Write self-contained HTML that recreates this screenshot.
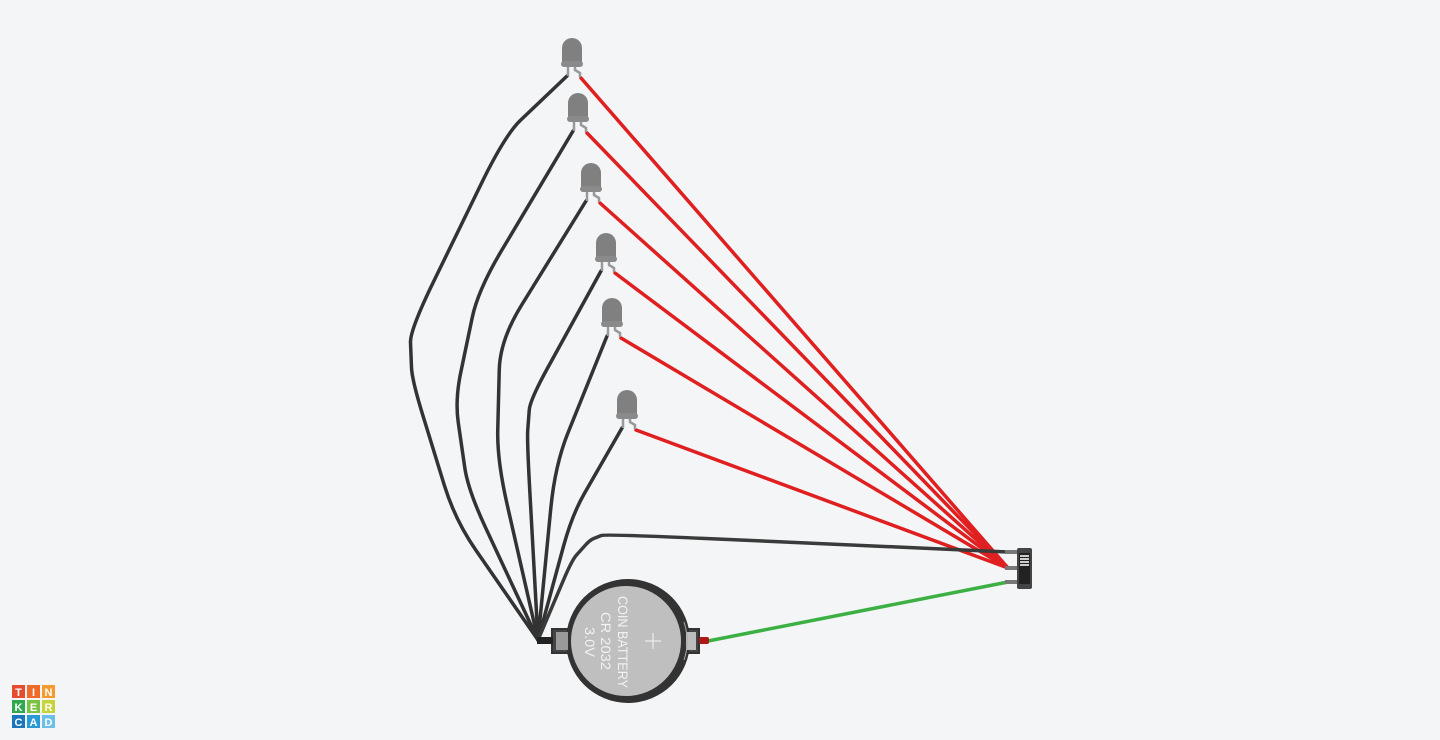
<!DOCTYPE html>
<html><head><meta charset="utf-8"><style>
html,body{margin:0;padding:0;background:#f3f5f7;}
svg{display:block;}
</style></head><body>
<svg width="1440" height="740" viewBox="0 0 1440 740">
<rect width="1440" height="740" fill="#f3f5f7"/>
<g id="wires" fill="none" stroke-linecap="round" stroke-linejoin="round" stroke-width="3.5"></g>
<g id="leds"></g>
<g>
  <rect x="552" y="629" width="18" height="24" fill="#444" stroke="#333" stroke-width="2"/>
  <rect x="684" y="629" width="15" height="24" fill="#444" stroke="#333" stroke-width="2"/>
  <circle cx="628" cy="641" r="62" fill="#333"/>
  <rect x="556" y="632" width="12" height="18" fill="#9a9a9a"/>
  <rect x="686" y="632" width="10" height="18" fill="#bdbdbd"/>
  <circle cx="626" cy="641" r="55" fill="#bfbfbf"/>
  <path d="M684 622 A60 60 0 0 1 684 660" stroke="#aaa" stroke-width="1" fill="none"/>
  <line x1="645" y1="641" x2="661" y2="641" stroke="#eee" stroke-width="1.2"/>
  <line x1="653" y1="633" x2="653" y2="649" stroke="#eee" stroke-width="1.2"/>
  <g font-family="Liberation Sans, sans-serif" font-size="14" fill="#f2f2f2">
    <text transform="translate(618,596) rotate(90)" textLength="92" lengthAdjust="spacingAndGlyphs">COIN BATTERY</text>
    <text transform="translate(601,612) rotate(90)" textLength="58" lengthAdjust="spacingAndGlyphs">CR 2032</text>
    <text transform="translate(585,627) rotate(90)" textLength="30" lengthAdjust="spacingAndGlyphs">3.0V</text>
  </g>
  <rect x="537" y="637" width="16" height="7" fill="#222"/>
  <rect x="699" y="637" width="10" height="7" rx="2" fill="#b01818"/>
</g>
<g>
  <rect x="1005" y="550" width="14" height="4" fill="#777"/>
  <rect x="1005" y="566" width="14" height="4" fill="#777"/>
  <rect x="1005" y="580" width="14" height="4" fill="#777"/>
  <rect x="1017" y="548" width="15" height="41" rx="2" fill="#444"/>
  <rect x="1019" y="553" width="11" height="31" fill="#222"/>
  <rect x="1020" y="555" width="9" height="2" fill="#ccc"/>
  <rect x="1020" y="558" width="9" height="2" fill="#ccc"/>
  <rect x="1020" y="561" width="9" height="2" fill="#ccc"/>
  <rect x="1020" y="564" width="9" height="2" fill="#ccc"/>
</g>
<g font-family="Liberation Sans, sans-serif" font-size="11" font-weight="bold" fill="#fff" text-anchor="middle">
  <rect x="12" y="685" width="13" height="13" fill="#e64b2e"/><text x="18.5" y="696">T</text>
  <rect x="27" y="685" width="13" height="13" fill="#f06a2a"/><text x="33.5" y="696">I</text>
  <rect x="42" y="685" width="13" height="13" fill="#f59a2f"/><text x="48.5" y="696">N</text>
  <rect x="12" y="700" width="13" height="13" fill="#2fa84f"/><text x="18.5" y="711">K</text>
  <rect x="27" y="700" width="13" height="13" fill="#7cc242"/><text x="33.5" y="711">E</text>
  <rect x="42" y="700" width="13" height="13" fill="#c6d43a"/><text x="48.5" y="711">R</text>
  <rect x="12" y="715" width="13" height="13" fill="#1b75bc"/><text x="18.5" y="726">C</text>
  <rect x="27" y="715" width="13" height="13" fill="#2a9ad6"/><text x="33.5" y="726">A</text>
  <rect x="42" y="715" width="13" height="13" fill="#6cc0e8"/><text x="48.5" y="726">D</text>
</g>
</svg>
<script>
const ledX=[572,578,591,606,612,627];
const ledTop=[38,93,163,233,298,390];
const blackPaths=[
 [[505,135],[410,330],[412,380],[455,520]],
 [[478,290],[455,400],[468,490]],
 [[500,340],[497,460]],
 [[530,400],[527,440]],
 [[555,465]],
 [[572,515]]
];
const hub=[538,640], sw=[1008,568];
const NS='http://www.w3.org/2000/svg';
const wires=document.getElementById('wires'), leds=document.getElementById('leds');
function smooth(pts){
  if(pts.length<3) return 'M'+pts.map(q=>q.join(',')).join(' L');
  let d='M'+pts[0].join(',');
  for(let i=1;i<pts.length-1;i++){
    const a=pts[i-1],b=pts[i],c=pts[i+1];
    const p1=[b[0]+(a[0]-b[0])*0.25,b[1]+(a[1]-b[1])*0.25];
    const p2=[b[0]+(c[0]-b[0])*0.25,b[1]+(c[1]-b[1])*0.25];
    d+=' L'+p1.join(',')+' Q'+b.join(',')+' '+p2.join(',');
  }
  return d+' L'+pts[pts.length-1].join(',');
}
function pl(pts,color,name){
  const p=document.createElementNS(NS,'path');
  p.setAttribute('d',smooth(pts));
  p.setAttribute('stroke',color);
  
  
  wires.appendChild(p);
}
ledX.forEach((x,i)=>{
  const t=ledTop[i];
  pl([[x-5,t+38]].concat(blackPaths[i]).concat([hub]),'#333','ground-wire');
  pl([[x+9,t+40],sw],'#e02020','led-wire');
  const g=document.createElementNS(NS,'g');
  
  
  g.innerHTML=`<path d="M${x-4} ${t+28} V${t+38}" stroke="#999" stroke-width="2.5" fill="none"/>
  <path d="M${x+3} ${t+28} V${t+32} L${x+8} ${t+35} V${t+39}" stroke="#999" stroke-width="2.5" fill="none"/>
  <path d="M${x-10} ${t+26} V${t+10} A10 10 0 0 1 ${x+10} ${t+10} V${t+26} Z" fill="#808080"/>
  <rect x="${x-11}" y="${t+23}" width="22" height="6" rx="3" fill="#8a8a8a"/>`;
  leds.appendChild(g);
});
pl([[1008,552],[605,534],[590,540],[572,560],hub],'#3a3a3a','switch-ground-wire');
pl([[1008,582],[708,641]],'#3cb043','battery-positive-wire');
</script>
</body></html>
